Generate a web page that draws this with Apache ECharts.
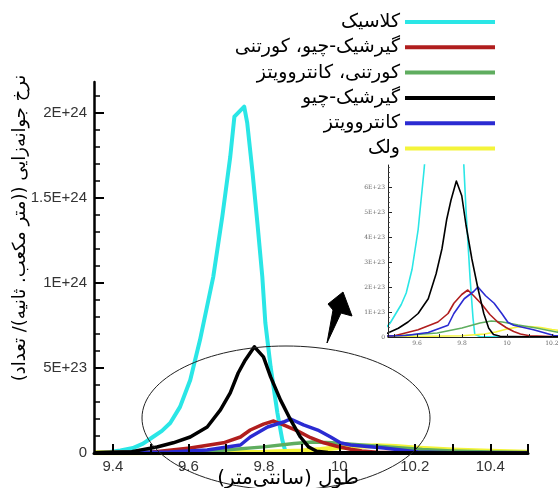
<!DOCTYPE html>
<html><head><meta charset="utf-8">
<script src="https://cdn.jsdelivr.net/npm/echarts@6/dist/echarts.min.js"></script>
<style>html,body{margin:0;padding:0;background:#fff}#c{width:558px;height:488px}</style>
</head><body><div id="c"></div>
<script>
const RLE = '\u202B', PDF = '\u202C';
const rtl = s => RLE + s + PDF;

// Series names (legend order) and colours
const names = ['کلاسیک', 'گیرشیک-چیو، کورتنی', 'کورتنی، کانتروویتز', 'گیرشیک-چیو', 'کانتروویتز', 'ولک'];
const colors = ['#2ae6e6', '#b01e1e', '#5fad5f', '#000000', '#2b2bd2', '#f4f43a'];

// x = length (cm), y = rate in units of 1E+23
const classicX = [9.35, 9.392, 9.42, 9.453, 9.48, 9.506, 9.53, 9.552, 9.578, 9.605, 9.631, 9.666, 9.69, 9.711, 9.722, 9.748, 9.756, 9.77, 9.783, 9.796, 9.804, 9.818, 9.836, 9.849, 9.857, 9.88, 10.0, 10.5];
const classicY = [0.0, 0.06, 0.15, 0.29, 0.55, 0.94, 1.3, 1.76, 2.71, 4.29, 6.65, 10.35, 13.9, 17.4, 19.76, 20.35, 19.4, 16.5, 13.5, 10.35, 7.65, 5.06, 2.35, 0.76, 0.1, 0.02, 0.0, 0.0];

const gcCourtneyX = [9.35, 9.5, 9.605, 9.693, 9.738, 9.764, 9.799, 9.826, 9.852, 9.889, 9.924, 9.959, 9.996, 10.03, 10.06, 10.1, 10.2, 10.5];
const gcCourtneyY = [0.01, 0.05, 0.29, 0.6, 0.94, 1.35, 1.7, 1.88, 1.65, 1.3, 0.9, 0.6, 0.38, 0.22, 0.12, 0.05, 0.02, 0.0];

const courtneyKantX = [9.35, 9.5, 9.6, 9.69, 9.8, 9.88, 9.93, 9.98, 10.05, 10.13, 10.22, 10.3, 10.4, 10.5];
const courtneyKantY = [0.01, 0.05, 0.1, 0.16, 0.36, 0.56, 0.64, 0.6, 0.48, 0.36, 0.2, 0.12, 0.06, 0.03];

const gcX = [9.35, 9.45, 9.517, 9.56, 9.605, 9.65, 9.685, 9.711, 9.732, 9.751, 9.775, 9.799, 9.818, 9.844, 9.871, 9.897, 9.919, 9.94, 9.97, 10.1, 10.5];
const gcY = [0.02, 0.08, 0.35, 0.6, 0.94, 1.53, 2.53, 3.53, 4.7, 5.47, 6.24, 5.65, 4.47, 3.12, 1.94, 0.94, 0.35, 0.1, 0.03, 0.01, 0.0];

const kantX = [9.35, 9.55, 9.65, 9.738, 9.764, 9.81, 9.852, 9.871, 9.905, 9.943, 9.977, 10.004, 10.03, 10.118, 10.209, 10.3, 10.5];
const kantY = [0.01, 0.06, 0.18, 0.47, 0.94, 1.53, 1.82, 2.0, 1.65, 1.35, 0.94, 0.59, 0.47, 0.29, 0.06, 0.02, 0.0];

const volkX = [9.35, 9.6, 9.8, 9.9, 9.95, 10.0, 10.05, 10.1, 10.15, 10.2, 10.3, 10.4, 10.5];
const volkY = [0.01, 0.02, 0.05, 0.12, 0.2, 0.32, 0.4, 0.42, 0.38, 0.3, 0.18, 0.1, 0.05];

// Axis ticks / labels
const xTicks = [9.4, 9.5, 9.6, 9.7, 9.8, 9.9, 10, 10.1, 10.2, 10.3, 10.4, 10.5];
const xLabels = [9.4, 9.6, 9.8, 10, 10.2, 10.4];
const yLabels = [0, 5, 10, 15, 20];
const yMinorTicks = [1, 2, 3, 4, 6, 7, 8, 9, 11, 12, 13, 14, 16, 17, 18, 19, 21];
const insetXLabels = [9.6, 9.8, 10, 10.2];
const insetXTicks = [9.5, 9.6, 9.7, 9.8, 9.9, 10, 10.1, 10.2];
const insetYLabels = [0, 1, 2, 3, 4, 5, 6];
const insetYMinor = [];
for (let i = 0; i <= 34; i++) { if (i % 5) insetYMinor.push(i / 5); }

const yTitle = 'نرخ جوانه‌زایی ((متر مکعب. ثانیه)/ تعداد)';
const xTitle = 'طول (سانتی‌متر)';

const seriesXs = [classicX, gcCourtneyX, courtneyKantX, gcX, kantX, volkX];
const seriesYs = [classicY, gcCourtneyY, courtneyKantY, gcY, kantY, volkY];
const drawOrder = [0, 5, 2, 1, 4, 3];
const mainWidths = [4, 3.5, 3.5, 3.5, 3.5, 5];

const zip = (xs, ys) => xs.map((x, i) => [x, ys[i]]);
const series = [];
[0, 1].forEach(g => {
  drawOrder.forEach(k => {
    series.push({
      name: rtl(names[k]), type: 'line', xAxisIndex: g, yAxisIndex: g === 0 ? 0 : 2,
      data: zip(seriesXs[k], seriesYs[k]), showSymbol: false, symbol: 'none',
      color: colors[k], lineStyle: { color: colors[k], width: g === 0 ? mainWidths[k] : 1.6, join: 'round' }, z: 2
    });
  });
});

const mainYFmt = v => v === 0 ? '0' : (v >= 10 ? (v / 10) + 'E+24' : v + 'E+23');

const chart = echarts.init(document.getElementById('c'), null, { renderer: 'canvas' });
chart.setOption({
  animation: false,
  backgroundColor: '#fff',
  textStyle: { fontFamily: 'Liberation Sans, Arial, sans-serif' },
  grid: [
    { left: 94, right: 30, top: 82, bottom: 35, containLabel: false, outerBoundsMode: 'none' },
    { left: 388, right: 0, top: 165, bottom: 151, containLabel: false, outerBoundsMode: 'none' }
  ],
  legend: {
    data: names.map(rtl), orient: 'vertical', align: 'right', right: 58, top: 7,
    icon: 'rect', itemWidth: 90, itemHeight: 4, itemGap: 5.3,
    textStyle: { fontFamily: 'DejaVu Sans', fontSize: 19, color: '#000', lineHeight: 20 },
    selectedMode: false
  },
  xAxis: [
    {
      type: 'value', gridIndex: 0, min: 9.35, max: 10.5, z: 3,
      axisLine: { lineStyle: { color: '#000', width: 3 } },
      axisTick: { inside: true, length: 9, customValues: xTicks, lineStyle: { color: '#000', width: 2 } },
      axisLabel: { customValues: xLabels, formatter: v => String(v), fontSize: 15, color: '#333', margin: 6 },
      splitLine: { show: false }
    },
    {
      type: 'value', gridIndex: 1, min: 9.471, max: 10.227, z: 3,
      axisLine: { lineStyle: { color: '#222', width: 1 } },
      axisTick: { inside: true, length: 3, customValues: insetXTicks, lineStyle: { color: '#222', width: 1 } },
      axisLabel: { customValues: insetXLabels, formatter: v => String(v), fontSize: 6, color: '#666', margin: 3, fontFamily: 'DejaVu Serif' },
      splitLine: { show: false }
    }
  ],
  yAxis: [
    {
      type: 'value', gridIndex: 0, min: 0, max: 21.8, position: 'left', z: 3,
      axisLine: { lineStyle: { color: '#000', width: 2.5 } },
      axisTick: { inside: true, length: 10, customValues: yLabels, lineStyle: { color: '#000', width: 2 } },
      axisLabel: { customValues: yLabels, formatter: mainYFmt, fontSize: 15, color: '#333', margin: 7 },
      splitLine: { show: false }
    },
    {
      type: 'value', gridIndex: 0, min: 0, max: 21.8, position: 'left', offset: 0, z: 3,
      axisLine: { show: false },
      axisTick: { inside: true, length: 6, customValues: yMinorTicks, lineStyle: { color: '#000', width: 1.5 } },
      axisLabel: { show: false },
      splitLine: { show: false }
    },
    {
      type: 'value', gridIndex: 1, min: 0, max: 6.88, position: 'left', z: 3,
      axisLine: { lineStyle: { color: '#222', width: 1 } },
      axisTick: { inside: true, length: 4, customValues: insetYLabels, lineStyle: { color: '#222', width: 1 } },
      axisLabel: { customValues: insetYLabels, formatter: v => v === 0 ? '0' : v + 'E+23', fontSize: 6, color: '#666', margin: 3, fontFamily: 'DejaVu Serif' },
      splitLine: { show: false }
    },
    {
      type: 'value', gridIndex: 1, min: 0, max: 6.88, position: 'left', offset: 0, z: 3,
      axisLine: { show: false },
      axisTick: { inside: true, length: 2, customValues: insetYMinor, lineStyle: { color: '#444', width: 0.8 } },
      axisLabel: { show: false },
      splitLine: { show: false }
    }
  ],
  graphic: [
    {
      type: 'ellipse', z: 100, silent: true,
      shape: { cx: 286, cy: 418, rx: 144, ry: 72 },
      style: { fill: 'none', stroke: '#222', lineWidth: 1 }
    },
    {
      type: 'polygon', z: 100, silent: true,
      shape: { points: [[343, 292], [352, 316], [341, 313], [327, 343], [333, 310], [328, 304]] },
      style: { fill: '#000', stroke: '#000', lineWidth: 1 }
    },
    {
      type: 'text', z: 100, silent: true, x: 20, y: 228, rotation: Math.PI / 2,
      style: { text: rtl(yTitle), fontFamily: 'DejaVu Sans', fontSize: 18, fill: '#000', align: 'center', verticalAlign: 'middle' }
    },
    {
      type: 'text', z: 100, silent: true, x: 288, y: 479,
      style: { text: rtl(xTitle), fontFamily: 'DejaVu Sans', fontSize: 20, fill: '#000', align: 'center', verticalAlign: 'middle' }
    }
  ],
  series: series
});
</script></body></html>
